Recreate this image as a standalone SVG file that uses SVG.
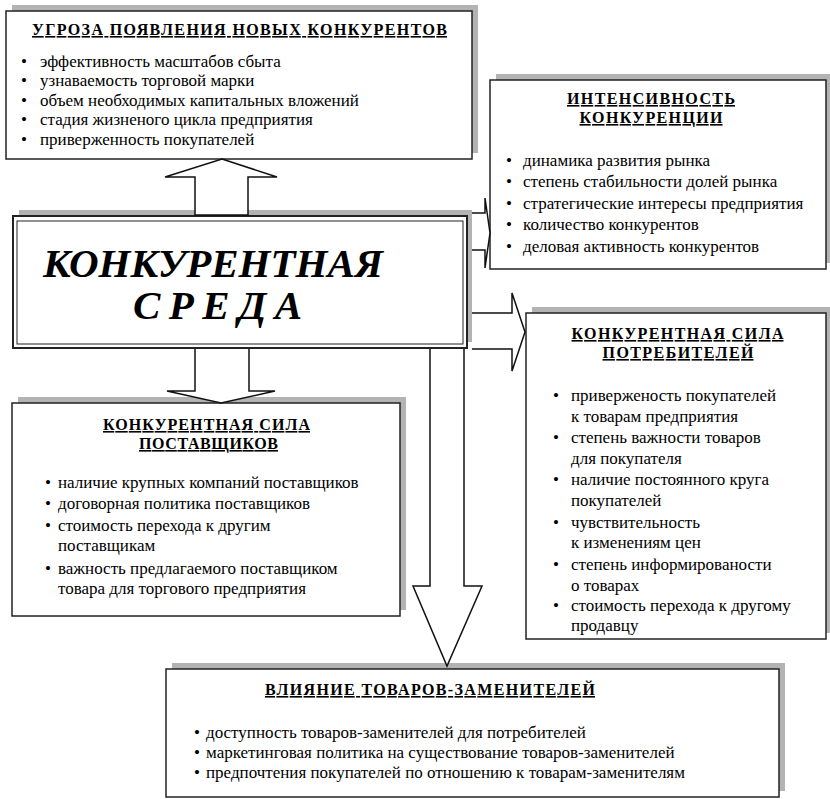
<svg xmlns="http://www.w3.org/2000/svg" width="830" height="799" viewBox="0 0 830 799" xml:lang="ru">
<style>
.sh{fill:#b3b3b3;stroke:none}
.bx{fill:#fff;stroke:#222;stroke-width:1.5}
</style>
<rect width="830" height="799" fill="#fff"/>

<g id="threat">
<rect class="sh" x="12" y="5" width="466" height="148"/>
<rect class="bx" x="6" y="11" width="466" height="148"/>
<text x="239.5" y="35" text-anchor="middle" textLength="415" lengthAdjust="spacing" font-family="Liberation Serif, Times New Roman, serif" font-size="16" font-weight="bold" text-decoration="underline">УГРОЗА ПОЯВЛЕНИЯ НОВЫХ КОНКУРЕНТОВ</text>
<text font-family="Liberation Serif, Times New Roman, serif" font-size="17"><tspan x="21" y="67">•</tspan><tspan x="40" y="67">эффективность масштабов сбыта</tspan><tspan x="21" y="86">•</tspan><tspan x="40" y="86">узнаваемость торговой марки</tspan><tspan x="21" y="106">•</tspan><tspan x="40" y="106">объем необходимых капитальных вложений</tspan><tspan x="21" y="125">•</tspan><tspan x="40" y="125">стадия жизненого цикла предприятия</tspan><tspan x="21" y="145">•</tspan><tspan x="40" y="145">приверженность покупателей</tspan></text>
</g>

<g id="intensity">
<rect class="sh" x="496" y="74" width="336" height="189"/>
<rect class="bx" x="490" y="80" width="336" height="189"/>
<text x="651" y="104" text-anchor="middle" textLength="168" lengthAdjust="spacing" font-family="Liberation Serif, Times New Roman, serif" font-size="16" font-weight="bold" text-decoration="underline">ИНТЕНСИВНОСТЬ</text>
<text x="651" y="123" text-anchor="middle" textLength="143" lengthAdjust="spacing" font-family="Liberation Serif, Times New Roman, serif" font-size="16" font-weight="bold" text-decoration="underline">КОНКУРЕНЦИИ</text>
<text font-family="Liberation Serif, Times New Roman, serif" font-size="17"><tspan x="506" y="166">•</tspan><tspan x="523" y="166">динамика развития рынка</tspan><tspan x="506" y="187">•</tspan><tspan x="523" y="187">степень стабильности долей рынка</tspan><tspan x="506" y="209">•</tspan><tspan x="523" y="209">стратегические интересы предприятия</tspan><tspan x="506" y="230">•</tspan><tspan x="523" y="230">количество конкурентов</tspan><tspan x="506" y="252">•</tspan><tspan x="523" y="252">деловая активность конкурентов</tspan></text>
</g>

<g id="center">
<rect class="sh" x="19" y="210" width="453" height="132"/>
<rect x="13" y="216" width="454" height="132" fill="#fff" stroke="#222" stroke-width="2"/>
<rect x="17" y="221" width="446" height="123" fill="none" stroke="#222" stroke-width="1"/>
<text x="43" y="277" textLength="340" lengthAdjust="spacing" font-family="Liberation Serif, Times New Roman, serif" font-size="41" font-weight="bold" font-style="italic">КОНКУРЕНТНАЯ</text>
<text x="133" y="319" textLength="169" lengthAdjust="spacing" font-family="Liberation Serif, Times New Roman, serif" font-size="41" font-weight="bold" font-style="italic">СРЕДА</text>
</g>

<g id="consumers">
<rect class="sh" x="532" y="307" width="300" height="326"/>
<rect class="bx" x="526" y="313" width="300" height="326"/>
<text x="677.5" y="339" text-anchor="middle" textLength="212" lengthAdjust="spacing" font-family="Liberation Serif, Times New Roman, serif" font-size="16" font-weight="bold" text-decoration="underline">КОНКУРЕНТНАЯ СИЛА</text>
<text x="678" y="358" text-anchor="middle" textLength="151" lengthAdjust="spacing" font-family="Liberation Serif, Times New Roman, serif" font-size="16" font-weight="bold" text-decoration="underline">ПОТРЕБИТЕЛЕЙ</text>
<text font-family="Liberation Serif, Times New Roman, serif" font-size="17"><tspan x="553" y="401">•</tspan><tspan x="571" y="401">приверженость покупателей</tspan><tspan x="571" y="422">к товарам предприятия</tspan><tspan x="553" y="443">•</tspan><tspan x="571" y="443">степень важности товаров</tspan><tspan x="571" y="464">для покупателя</tspan><tspan x="553" y="485">•</tspan><tspan x="571" y="485">наличие постоянного круга</tspan><tspan x="571" y="506">покупателей</tspan><tspan x="553" y="528">•</tspan><tspan x="571" y="528">чувствительность</tspan><tspan x="571" y="548">к изменениям цен</tspan><tspan x="553" y="570">•</tspan><tspan x="571" y="570">степень информированости</tspan><tspan x="571" y="591">о товарах</tspan><tspan x="553" y="611">•</tspan><tspan x="571" y="611">стоимость перехода к другому</tspan><tspan x="571" y="631">продавцу</tspan></text>
</g>

<g id="suppliers">
<rect class="sh" x="18" y="397" width="388" height="213"/>
<rect class="bx" x="12" y="403" width="388" height="213"/>
<text x="206.5" y="430" text-anchor="middle" textLength="207" lengthAdjust="spacing" font-family="Liberation Serif, Times New Roman, serif" font-size="16" font-weight="bold" text-decoration="underline">КОНКУРЕНТНАЯ СИЛА</text>
<text x="208.5" y="449" text-anchor="middle" textLength="139" lengthAdjust="spacing" font-family="Liberation Serif, Times New Roman, serif" font-size="16" font-weight="bold" text-decoration="underline">ПОСТАВЩИКОВ</text>
<text font-family="Liberation Serif, Times New Roman, serif" font-size="17"><tspan x="45" y="488">•</tspan><tspan x="58" y="488">наличие крупных компаний поставщиков</tspan><tspan x="45" y="509">•</tspan><tspan x="58" y="509">договорная политика поставщиков</tspan><tspan x="45" y="531">•</tspan><tspan x="58" y="531">стоимость перехода к другим</tspan><tspan x="58" y="551">поставщикам</tspan><tspan x="45" y="574">•</tspan><tspan x="58" y="574">важность предлагаемого поставщиком</tspan><tspan x="58" y="594">товара для торгового предприятия</tspan></text>
</g>

<g id="substitutes">
<rect class="sh" x="172" y="663" width="613" height="128"/>
<rect class="bx" x="166" y="669" width="613" height="128"/>
<text x="430" y="695" text-anchor="middle" textLength="330" lengthAdjust="spacing" font-family="Liberation Serif, Times New Roman, serif" font-size="16" font-weight="bold" text-decoration="underline">ВЛИЯНИЕ ТОВАРОВ-ЗАМЕНИТЕЛЕЙ</text>
<text font-family="Liberation Serif, Times New Roman, serif" font-size="17"><tspan x="194" y="738">•</tspan><tspan x="206" y="738">доступность товаров-заменителей для потребителей</tspan><tspan x="194" y="758">•</tspan><tspan x="206" y="758">маркетинговая политика на существование товаров-заменителей</tspan><tspan x="194" y="778">•</tspan><tspan x="206" y="778">предпочтения покупателей по отношению к товарам-заменителям</tspan></text>
</g>

<g id="connectors" fill="#fff" stroke="#111" stroke-width="1.5">
<polygon points="222,159 277,177 248,177 248,215 195,215 195,177 165,177"/>
<polyline points="472,213 485,213 485,198 490,233 485,268 485,250 472,250"/>
<polyline points="472,313 512,313 512,293 525,332 512,371 512,349 472,349"/>
<polyline points="195,349 195,391 167,391 221,403 275,391 249,391 249,349"/>
<polyline points="430,349 430,586 413,586 447,666 482,586 464,586 464,349"/>
</g>
</svg>
